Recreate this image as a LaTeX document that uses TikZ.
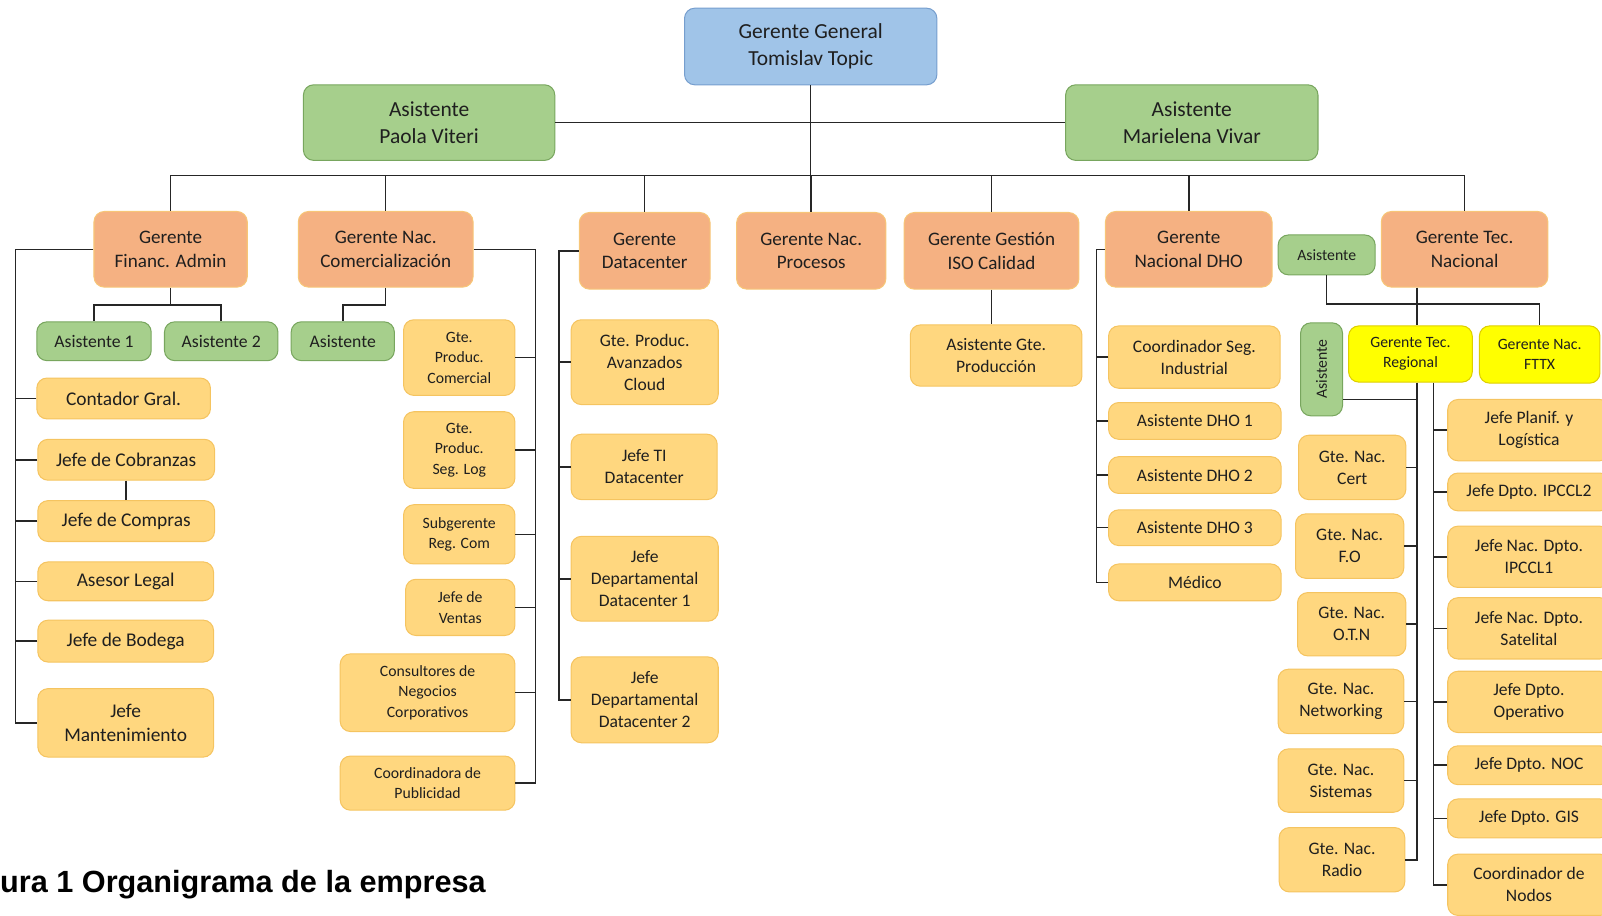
\documentclass[tikz,border=0pt]{standalone}
\usepackage{fontspec}
\setmainfont{Carlito}
\newfontfamily\capfont{Liberation Sans}
\usepackage{xcolor}
\usepackage{tikz}

\definecolor{azul}{RGB}{160,196,232}
\definecolor{azulb}{RGB}{118,158,206}
\definecolor{verde}{RGB}{166,207,140}
\definecolor{verdeb}{RGB}{120,166,94}
\definecolor{naranja}{RGB}{245,177,130}
\definecolor{naranjab}{RGB}{247,198,120}
\definecolor{crema}{RGB}{255,215,127}
\definecolor{cremab}{RGB}{245,196,96}
\definecolor{amarillo}{RGB}{255,255,0}
\definecolor{amarillob}{RGB}{222,206,0}
\definecolor{gris}{RGB}{38,38,38}

\tikzset{
  caja/.style 2 args={draw, rounded corners=10pt, line width=1pt, align=center,
    inner sep=2pt, text=black!88, minimum width=#1pt, minimum height=#2pt},
  gral/.style={fill=azul, draw=azulb, font=\fontsize{21}{26}\selectfont},
  asist/.style={fill=verde, draw=verdeb, font=\fontsize{21}{26}\selectfont},
  asistm/.style={fill=verde, draw=verdeb, font=\fontsize{17.3}{21}\selectfont},
  asistc/.style={fill=verde, draw=verdeb, font=\fontsize{15.4}{20}\selectfont},
  gere/.style={fill=naranja, draw=naranjab, font=\fontsize{18.7}{23}\selectfont},
  jefeg/.style={fill=crema, draw=cremab, font=\fontsize{19}{23}\selectfont},
  jefe/.style={fill=crema, draw=cremab, font=\fontsize{17.2}{21.5}\selectfont},
  jefec/.style={fill=crema, draw=cremab, font=\fontsize{15.4}{20}\selectfont},
  amar/.style={fill=amarillo, draw=amarillob, font=\fontsize{15.4}{20}\selectfont},
  rama/.style={draw=gris, line width=1.5pt}
}

\begin{document}
\begin{tikzpicture}[x=1pt,y=1pt,yscale=-1]
\useasboundingbox (0,0) rectangle (1568,896);
\clip (0,0) rectangle (1568,896);

%Nivel superior
\node[caja={247}{75},gral] (gg) at (793.5,45.5) {Gerente General\\Tomislav Topic};
\node[caja={246}{74},asist] (paola) at (420,120) {Asistente\\Paola Viteri};
\node[caja={247}{74},asist] (mariel) at (1166.5,120) {Asistente\\Marielena Vivar};
\coordinate (bus) at (0,172);

%Gerentes
\node[caja={150}{74},gere] (fin) at (167,244) {Gerente\\Financ. Admin};
\node[caja={171}{74},gere] (com) at (377.5,244) {Gerente Nac.\\Comercialización};
\node[caja={128}{75},gere] (dc) at (631,245.5) {Gerente\\Datacenter};
\node[caja={146}{75},gere] (proc) at (794,245.5) {Gerente Nac.\\Procesos};
\node[caja={171}{75},gere] (iso) at (970.5,245.5) {Gerente Gestión\\ISO Calidad};
\node[caja={163}{74},gere] (dho) at (1163.5,244) {Gerente\\Nacional DHO};
\node[caja={95}{39},asistc] (asis) at (1298.5,249.5) {Asistente};
\node[caja={163}{74},gere] (tecnac) at (1433.5,244) {Gerente Tec.\\Nacional};

%Financ. Admin
\node[caja={112}{38},asistm] (as1) at (92,334) {Asistente 1};
\node[caja={111}{38},asistm] (as2) at (216.5,334) {Asistente 2};
\node[caja={170}{40},jefeg] (cont) at (121,390) {Contador Gral.};
\node[caja={173}{40},jefeg] (cob) at (123.5,450) {Jefe de Cobranzas};
\node[caja={173}{40},jefeg] (comp) at (123.5,510) {Jefe de Compras};
\node[caja={172}{38},jefeg] (ases) at (123,569) {Asesor Legal};
\node[caja={172}{41},jefeg] (bod) at (123,627.5) {Jefe de Bodega};
\node[caja={172}{67},jefeg] (mant) at (123,707.5) {Jefe\\Mantenimiento};

%Comercializacion
\node[caja={101}{38},asistm] (asc) at (335.5,334) {Asistente};
\node[caja={109}{74},jefec] (gpc) at (449.5,350) {Gte.\\Produc.\\Comercial};
\node[caja={109}{75},jefec] (gps) at (449.5,440.5) {Gte.\\Produc.\\Seg. Log};
\node[caja={109}{58},jefec] (sub) at (449.5,523) {Subgerente\\Reg. Com};
\node[caja={107}{55},jefec] (ven) at (450.5,594.5) {Jefe de\\Ventas};
\node[caja={171}{76},jefec] (cons) at (418.5,678) {Consultores de\\Negocios\\Corporativos};
\node[caja={171}{53},jefec] (pub) at (418.5,766.5) {Coordinadora de\\Publicidad};

%Datacenter
\node[caja={144}{83},jefe] (dc1) at (631,354.5) {Gte. Produc.\\Avanzados\\Cloud};
\node[caja={143}{64},jefe] (dc2) at (630.5,457) {Jefe TI\\Datacenter};
\node[caja={144}{83},jefe] (dc3) at (631,566.5) {Jefe\\Departamental\\Datacenter 1};
\node[caja={144}{84},jefe] (dc4) at (631,685) {Jefe\\Departamental\\Datacenter 2};

%ISO Calidad
\node[caja={168}{60},jefe] (asg) at (975,348) {Asistente Gte.\\Producción};

%DHO
\node[caja={168}{61},jefe] (dh0) at (1169,349.5) {Coordinador Seg.\\Industrial};
\node[caja={169}{36},jefe] (dh1) at (1169.5,412) {Asistente DHO 1};
\node[caja={169}{36},jefe] (dh2) at (1169.5,465) {Asistente DHO 2};
\node[caja={169}{35},jefe] (dh3) at (1169.5,516.5) {Asistente DHO 3};
\node[caja={169}{36},jefe] (med) at (1169.5,570) {Médico};

%Tec. Nacional
\node[caja={121}{55},amar] (reg) at (1380.5,346.5) {Gerente Tec.\\Regional};
\node[caja={118}{56},amar] (fttx) at (1507,347) {Gerente Nac.\\FTTX};
\node[caja={41}{91},asistc] (asr) at (1293.5,361.5) {\rotatebox{90}{Asistente}};
\node[caja={105}{63},jefe] (cert) at (1323.5,457.5) {Gte. Nac.\\Cert};
\node[caja={106}{63},jefe] (fo) at (1321,534.5) {Gte. Nac.\\F.O};
\node[caja={106}{62},jefe] (otn) at (1323,611) {Gte. Nac.\\O.T.N};
\node[caja={123}{63},jefe] (net) at (1312.5,686.5) {Gte. Nac.\\Networking};
\node[caja={123}{62},jefe] (sis) at (1312.5,764) {Gte. Nac.\\Sistemas};
\node[caja={123}{63},jefe] (radio) at (1313.5,841.5) {Gte. Nac.\\Radio};
\node[caja={159}{60},jefe] (pla) at (1496.5,421) {Jefe Planif. y\\Logística};
\node[caja={159}{37},jefe] (ip2) at (1496.5,481.5) {Jefe Dpto. IPCCL2};
\node[caja={159}{60},jefe] (ip1) at (1496.5,545) {Jefe Nac. Dpto.\\IPCCL1};
\node[caja={159}{60},jefe] (sat) at (1496.5,615) {Jefe Nac. Dpto.\\Satelital};
\node[caja={159}{60},jefe] (ope) at (1496.5,687) {Jefe Dpto.\\Operativo};
\node[caja={159}{38},jefe] (noc) at (1496.5,749) {Jefe Dpto. NOC};
\node[caja={159}{38},jefe] (gis) at (1496.5,801) {Jefe Dpto. GIS};
\node[caja={159}{60},jefe] (nod) at (1496.5,866) {Coordinador de\\Nodos};

% Text Node
\node[anchor=west, inner sep=0pt, font=\capfont\bfseries\fontsize{30}{36}\selectfont] (cap) at (0,866) {ura 1 Organigrama de la empresa};

%Conectores
\draw[rama] (paola.east) -- (mariel.west);
\draw[rama] (gg.south) -- (gg.south |- bus);
\draw[rama] (fin.north) |- (bus -| tecnac.north) -- (tecnac.north);
\foreach \g in {com,dc,proc,iso,dho}
  \draw[rama] (\g.north) -- (\g.north |- bus);

\draw[rama] (fin.south) -- ++(0,17) coordinate (finj) -| (as1.north) (finj) -| (as2.north);
\coordinate (finl) at (15,0);
\draw[rama] (fin.west) -- (fin.west -| finl) |- (mant.west);
\foreach \n in {cont,cob,comp,ases,bod}
  \draw[rama] (\n.west) -- (\n.west -| finl);
\draw[rama] (cob.south) -- (comp.north);

\draw[rama] (com.south) -- ++(0,17) -| (asc.north);
\coordinate (comr) at (524,0);
\draw[rama] (com.east) -- (com.east -| comr) |- (pub.east);
\foreach \n in {gpc,gps,sub,ven,cons}
  \draw[rama] (\n.east) -- (\n.east -| comr);

\coordinate (dcl) at (547,0);
\draw[rama] (dc.west) -- (dc.west -| dcl) |- (dc4.west);
\foreach \n in {dc1,dc2,dc3}
  \draw[rama] (\n.west) -- (\n.west -| dcl);

\draw[rama] (iso.south) -- (iso.south |- asg.north);

\coordinate (dhol) at (1073,0);
\draw[rama] (dho.west) -- (dho.west -| dhol) |- (med.west);
\foreach \n in {dh0,dh1,dh2,dh3}
  \draw[rama] (\n.west) -- (\n.west -| dhol);

\coordinate (tl) at (1387,0);
\coordinate (tr) at (1403,0);
\coordinate (asrj) at (1387,391);
\draw[rama] (tecnac.south -| tl) -- (reg.north -| tl);
\draw[rama] (asis.south) -- ++(0,28) -| (fttx.north);
\draw[rama] (reg.south -| tl) |- (radio.east);
\draw[rama] (asrj -| asr.east) -- (asrj);
\foreach \n in {cert,fo,otn,net,sis}
  \draw[rama] (\n.east) -- (\n.east -| tl);
\draw[rama] (reg.south -| tr) |- (nod.west);
\foreach \n in {pla,ip2,ip1,sat,ope,noc,gis}
  \draw[rama] (\n.west) -- (\n.west -| tr);
\end{tikzpicture}
\end{document}
